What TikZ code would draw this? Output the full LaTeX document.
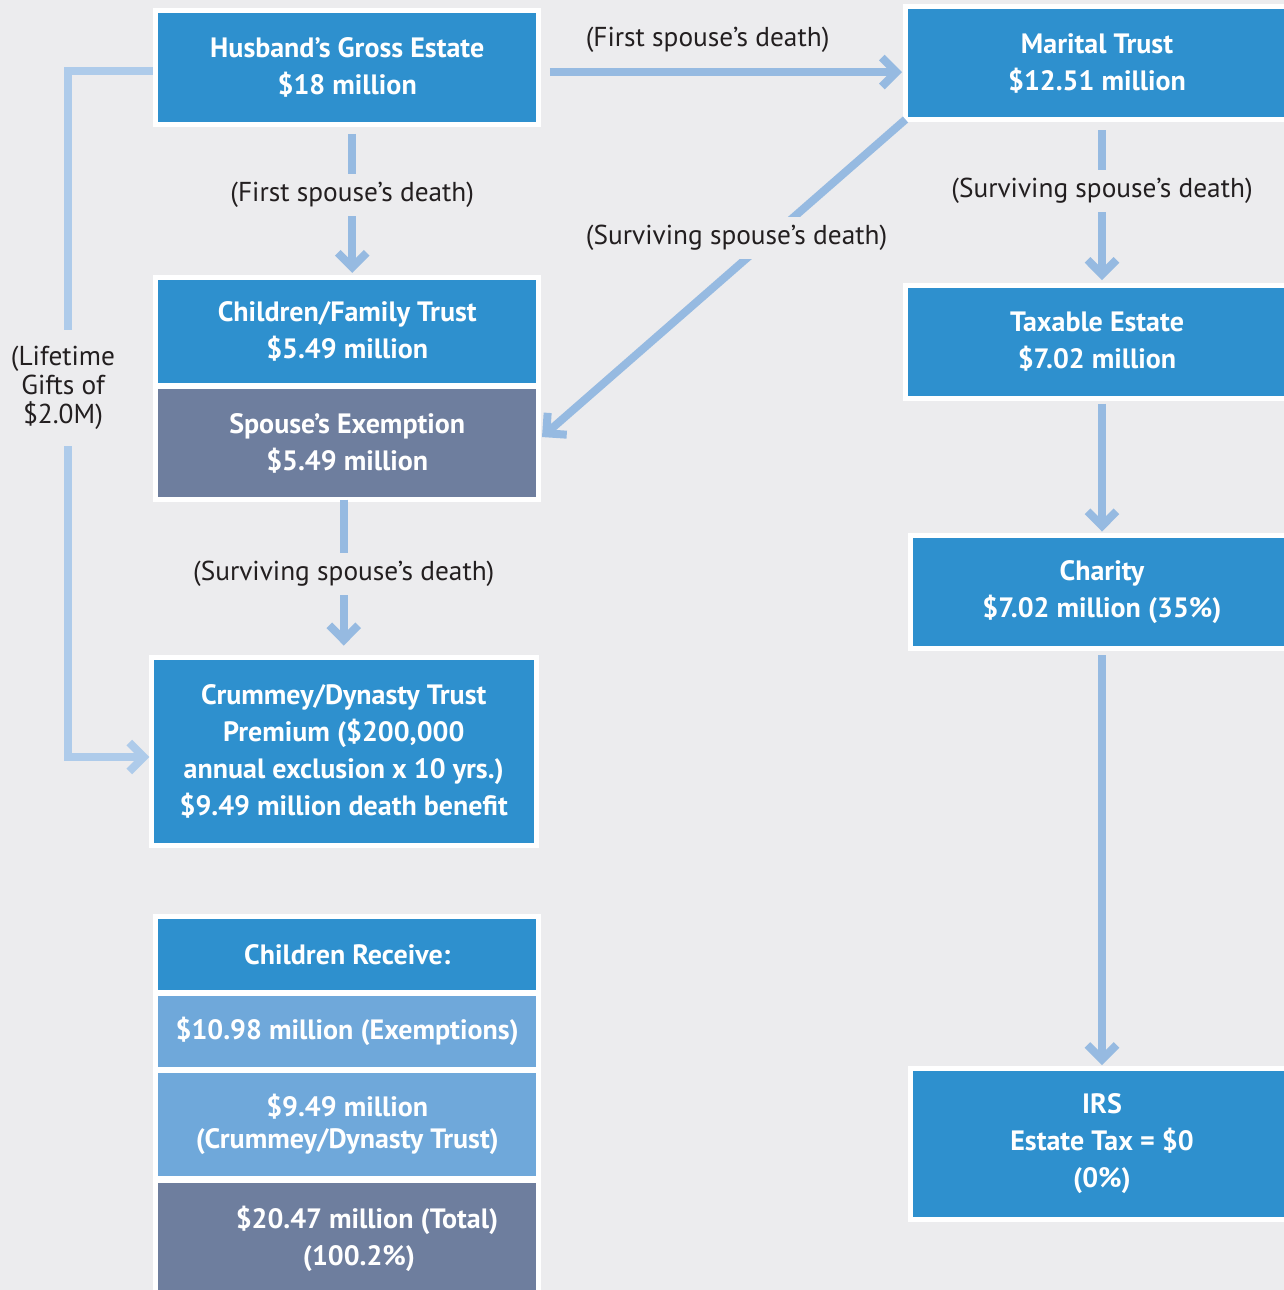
\documentclass[tikz,border=0pt]{standalone}
\usepackage{fontspec}
\setmainfont{PT Sans}
\usetikzlibrary{arrows.meta}

\definecolor{pagegray}{RGB}{236,236,238}
\definecolor{trustblue}{RGB}{46,144,206}
\definecolor{slategray}{RGB}{110,126,158}
\definecolor{paleblue}{RGB}{111,168,218}
\definecolor{flowblue}{RGB}{150,186,225}
\definecolor{giftblue}{RGB}{174,203,234}
\definecolor{inkgray}{RGB}{35,31,32}

\tikzset{every picture/.style={line width=0.75pt}}

\begin{document}
\begin{tikzpicture}[x=0.75pt,y=0.75pt,yscale=-1,xscale=1,
  box/.style={draw=white, line width=3.75pt, outer sep=0pt, inner sep=0pt, fill=trustblue, text=white, align=center, minimum width=287.6pt, font=\fontsize{21}{27.75}\selectfont\bfseries},
  flow/.style={draw=flowblue, line width=6pt, -{Straight Barb[length=10.9pt,width=21.75pt]}},
  gift/.style={flow, draw=giftblue},
  death/.style={fill=pagegray, text=inkgray, inner xsep=4pt, inner ysep=6pt, font=\fontsize{20.5}{21.75}\selectfont}]
\useasboundingbox (0,0) rectangle (1284,1290);
%Shape: Rectangle [page]
\fill [pagegray] (0,0) rectangle (1284,1290);
\clip (0,0) rectangle (1284,1290);

%Shape: Rectangle [husband]
\node [box, minimum height=85.5pt] (hus) at (347.25,67.5) {Husband's Gross Estate\\\$18 million};
%Shape: Rectangle [marital]
\node [box, minimum width=287.25pt, minimum height=84.75pt] (mar) at (1097,63) {Marital Trust\\\$12.51 million};
%Shape: Rectangle [family trust]
\node [box, minimum height=81pt] (cft) at (347.25,331.5) {Children/Family Trust\\\$5.49 million};
%Shape: Rectangle [exemption]
\node [box, fill=slategray, minimum height=84.75pt] (sex) at (347.25,443) {Spouse's Exemption\\\$5.49 million};
%Shape: Rectangle [crummey]
\node [box, minimum width=288.4pt, minimum height=141pt] (crum) at (343.75,751.5) {Crummey/Dynasty Trust\\Premium (\$200,000\\annual exclusion x 10 yrs.)\\\$9.49 million death benefit};
%Shape: Rectangle [children receive]
\node [box, minimum height=57pt] (rcv) at (347.25,954.5) {Children Receive:};
\node [box, fill=paleblue, minimum height=57pt] (exm) at (347.25,1031.5) {\$10.98 million (Exemptions)};
\node [box, fill=paleblue, minimum height=81pt] (cdt) at (347.25,1124.5) {\$9.49 million\\[-3.75pt](Crummey/Dynasty Trust)};
\node [box, fill=slategray, minimum height=87pt] (tot) at (347.25,1238.5) {};
% Text Node
\node [text=white, align=center, font=\fontsize{21}{27.75}\selectfont\bfseries] (totlbl) at (359,1238.5) {\hspace*{12pt}\$20.47 million (Total)\\(100.2\%)};
%Shape: Rectangle [taxable]
\node [box, minimum width=287.25pt, minimum height=84.75pt] (tax) at (1097,342) {Taxable Estate\\\$7.02 million};
%Shape: Rectangle [charity]
\node [box, minimum width=287.25pt, minimum height=84.75pt] (cha) at (1102,592) {Charity\\\$7.02 million (35\%)};
%Shape: Rectangle [irs]
\node [box, minimum width=287.25pt, minimum height=113.25pt] (irs) at (1102,1144) {IRS\\Estate Tax = \$0\\(0\%)};

%Straight Lines [first death, down]
\draw [flow, shorten <=7pt, shorten >=3.4pt] ([xshift=3.75pt]hus.south) -- node [death, pos=0.46] {(First spouse's death)} ([xshift=3.75pt]cft.north);
%Straight Lines [first death, across]
\draw [flow, shorten <=8.25pt, shorten >=2.6pt] ([yshift=3.4pt]hus.east) -- node [death, pos=0.46, yshift=24pt] {(First spouse's death)} ([yshift=3.4pt]hus.east -| mar.west);
%Straight Lines [surviving death, diagonal]
\draw [flow, shorten >=3pt] (mar.south west) -- node [death, pos=0.37, xshift=-25pt] {(Surviving spouse's death)} ([yshift=-2.5pt]sex.east);
%Straight Lines [surviving death, right]
\draw [flow, shorten <=7.9pt, shorten >=4.1pt] ([xshift=3.75pt]mar.south) -- node [death, pos=0.43] {(Surviving spouse's death)} ([xshift=3.75pt]tax.north);
%Straight Lines [surviving death, left]
\draw [flow, shorten >=9pt] (sex.south -| crum.north) -- node [death, pos=0.47] {(Surviving spouse's death)} (crum.north);
%Straight Lines
\draw [flow, shorten <=4pt, shorten >=3pt] (tax.south -| cha.north) -- (cha.north);
%Straight Lines
\draw [flow, shorten <=5pt, shorten >=2.5pt] (cha.south) -- (irs.north);

%Straight Lines [lifetime gifts]
\coordinate (gbend) at (68,757);
\draw [gift, shorten <=2pt, shorten >=1.5pt] ([yshift=2.6pt]hus.west) -| (gbend) -- (gbend -| crum.west);
% Text Node
\node [death, align=center, inner ysep=12pt] (life) at (63,388) {(Lifetime\\Gifts of\\\$2.0M)};

\end{tikzpicture}
\end{document}
